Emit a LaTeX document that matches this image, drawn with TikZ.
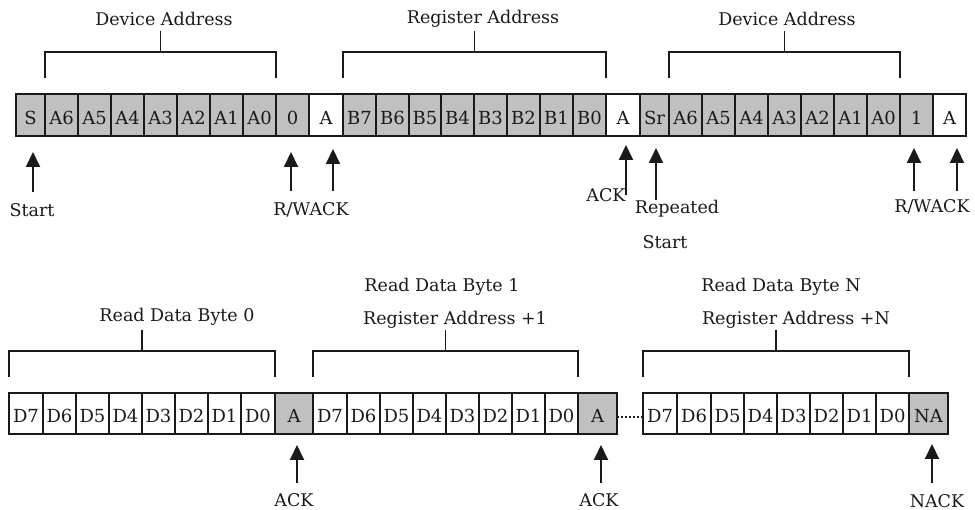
\documentclass[tikz,border=0pt]{standalone}
\usepackage{fontspec}
\setmainfont{DejaVu Serif}
\usetikzlibrary{arrows.meta,calc}
\definecolor{boxg}{HTML}{C0C0C0}
\colorlet{boxw}{white}
\definecolor{ink}{HTML}{1A1A1A}
\begin{document}
\begin{tikzpicture}[x=1pt,y=-1pt,
  bit/.style={draw=ink, line width=1.2pt, inner sep=0pt, outer sep=0pt, minimum height=42pt,
    text=ink, text height=20pt, text depth=0pt, font=\fontsize{18}{21}\selectfont},
  lbl/.style={inner sep=0pt, text=ink, font=\fontsize{17.5}{21}\selectfont},
  brace/.style={draw=ink, line width=1.8pt},
  arr/.style={draw=ink, line width=2pt, -{Triangle[width=14pt,length=15pt]}},
]
\useasboundingbox (0,0) rectangle (975,510);
\fill[white] (0,0) rectangle (975,510);

% ---------- top row ----------
\foreach \lab/\l/\r/\f [count=\i] in {
  S/16/45/boxg, A6/45/78/boxg, A5/78/111/boxg, A4/111/144/boxg, A3/144/177/boxg,
  A2/177/210/boxg, A1/210/243/boxg, A0/243/276/boxg, 0/276/309/boxg, A/309/343/boxw,
  B7/343/376/boxg, B6/376/409/boxg, B5/409/441/boxg, B4/441/474/boxg, B3/474/507/boxg,
  B2/507/540/boxg, B1/540/573/boxg, B0/573/606/boxg, A/606/640/boxw, Sr/640/669/boxg,
  A6/669/702/boxg, A5/702/735/boxg, A4/735/768/boxg, A3/768/801/boxg, A2/801/834/boxg,
  A1/834/867/boxg, A0/867/900/boxg, 1/900/933/boxg, A/933/966/boxw}
  \node[bit, fill=\f, minimum width={(\r-\l)*1pt}] (t\i) at ({(\l+\r)/2},115) {\lab};

% ---------- bottom row ----------
\foreach \lab/\l/\r/\f [count=\i] in {
  D7/9/43/boxw, D6/43/76/boxw, D5/76/109/boxw, D4/109/142/boxw, D3/142/175/boxw,
  D2/175/208/boxw, D1/208/241/boxw, D0/241/275/boxw, A/275/313/boxg,
  D7/313/347/boxw, D6/347/380/boxw, D5/380/413/boxw, D4/413/446/boxw, D3/446/479/boxw,
  D2/479/512/boxw, D1/512/545/boxw, D0/545/578/boxw, A/578/617/boxg,
  D7/643/677/boxw, D6/677/711/boxw, D5/711/744/boxw, D4/744/777/boxw, D3/777/810/boxw,
  D2/810/843/boxw, D1/843/876/boxw, D0/876/909/boxw, NA/909/948/boxg}
  \node[bit, fill=\f, minimum width={(\r-\l)*1pt}, minimum height=41pt, text height=18pt] (b\i) at ({(\l+\r)/2},413.5) {\lab};

\draw[ink, line width=2pt, dash pattern=on 2pt off 2pt] ([yshift=-4pt]b18.east) -- ([yshift=-4pt]b19.west);

% ---------- braces ----------
\newcommand\groupbrace[2]{%
  \draw[brace] ([yshift=16pt]#1.north west) -- ([yshift=42pt]#1.north west)
     -- ([yshift=42pt]#2.north east) -- ([yshift=16pt]#2.north east);
  \draw[brace] ($([yshift=42pt]#1.north west)!0.5!([yshift=42pt]#2.north east)$) -- ++(0,-21);
}
\groupbrace{t2}{t8}
\groupbrace{t11}{t18}
\groupbrace{t21}{t27}
\groupbrace{b1}{b8}
\groupbrace{b10}{b17}
\groupbrace{b19}{b26}

% ---------- group labels ----------
\node[lbl] (gDev1) at (164,19) {Device Address};
\node[lbl] (gReg) at (483,19) {Register Address};
\node[lbl] (gDev2) at (787,19) {Device Address};
\node[lbl] (gRd0) at (177,317) {Read Data Byte 0};
\node[lbl] (gRd1) at (442,287) {Read Data Byte 1};
\node[lbl] (gRa1) at (455,320) {Register Address +1};
\node[lbl] (gRdN) at (781,287) {Read Data Byte N};
\node[lbl] (gRaN) at (796,320) {Register Address +N};

% ---------- arrow labels ----------
\node[lbl] (lStart) at (32,210) {Start};
\node[lbl] (lRW1) at (311,210) {R/WACK};
\node[lbl] (lAck1) at (606,195) {ACK};
\node[lbl] (lRep) at (677,209) {Repeated};
\node[lbl] (lRep2) at (665,242) {Start};
\node[lbl] (lRW2) at (932,207) {R/WACK};
\node[lbl] (lAck2) at (294,500) {ACK};
\node[lbl] (lAck3) at (599,500) {ACK};
\node[lbl] (lNack) at (937,501) {NACK};

% ---------- arrows ----------
\coordinate (aStart) at (33,192);
\coordinate (aRW1) at (291,191);
\coordinate (aAck1) at (333,191);
\coordinate (aAck2) at (626,195);
\coordinate (aRep) at (656,200);
\coordinate (aRW2) at (914,191);
\coordinate (aAck3) at (957,191);
\coordinate (aB1) at (297,483);
\coordinate (aB2) at (601,483);
\coordinate (aB3) at (932,483);

\draw[arr, shorten >=16pt] (aStart) -- (aStart |- t1.south);
\draw[arr, shorten >=16pt] (aRW1) -- (aRW1 |- t9.south);
\draw[arr, shorten >=13pt] (aAck1) -- (aAck1 |- t10.south);
\draw[arr, shorten >=9pt] (aAck2) -- (aAck2 |- t19.south);
\draw[arr, shorten >=12pt] (aRep) -- (aRep |- t20.south);
\draw[arr, shorten >=12pt] (aRW2) -- (aRW2 |- t28.south);
\draw[arr, shorten >=12pt] (aAck3) -- (aAck3 |- t29.south);
\draw[arr, shorten >=11pt] (aB1) -- (aB1 |- b9.south);
\draw[arr, shorten >=11pt] (aB2) -- (aB2 |- b18.south);
\draw[arr, shorten >=10pt] (aB3) -- (aB3 |- b27.south);
\end{tikzpicture}
\end{document}
